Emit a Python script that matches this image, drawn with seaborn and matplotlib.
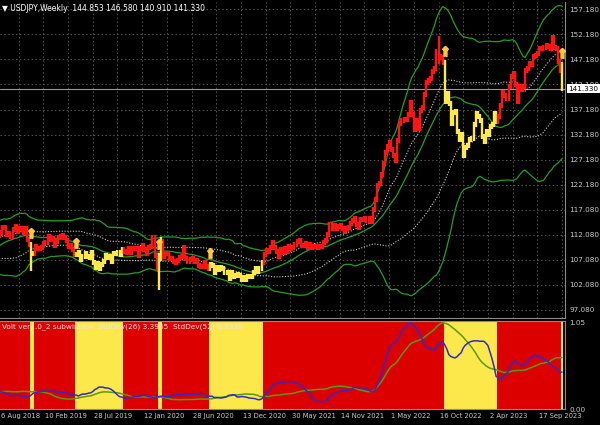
import numpy as np
import pandas as pd
import matplotlib
matplotlib.use("Agg")
import matplotlib.pyplot as plt
import matplotlib.transforms as mtransforms
import seaborn as sns

# weekly closes before the visible window (warm-up for the bands), Sep 2017 - Aug 2018
history = [110.2, 109.8, 111.0, 112.0, 112.6, 111.8, 113.5, 113.7, 114.0, 113.5,
           112.1, 111.5, 112.2, 113.5, 112.6, 112.7, 113.0, 111.0, 110.8, 108.6,
           110.2, 108.8, 106.3, 106.9, 105.8, 106.8, 106.0, 104.7, 106.3, 106.9,
           107.4, 107.6, 109.0, 109.1, 109.4, 110.8, 109.4, 109.5, 109.5, 110.6,
           110.0, 110.7, 110.5, 112.4, 111.4, 111.0, 111.2, 110.9, 110.5, 111.2]

# weekly closes, bar 0 = week of 26 Aug 2018, last bar = week of 10 Dec 2023
closes = [111.0, 110.9, 112.1, 112.6, 113.7, 113.7, 112.2, 112.5, 111.9, 113.2,
          113.8, 112.8, 113.4, 113.5, 112.7, 113.4, 111.2, 110.3, 108.5, 108.5,
          109.8, 109.5, 109.5, 109.7, 110.5, 110.7, 111.9, 111.2, 111.5, 110.0,
          110.9, 111.7, 111.9, 112.0, 111.6, 111.1, 109.9, 110.1, 109.3, 108.3,
          108.2, 108.6, 107.3, 107.8, 108.5, 107.9, 107.7, 108.7, 106.6, 105.7,
          106.4, 105.4, 106.3, 106.9, 108.1, 107.6, 107.9, 106.9, 108.4, 108.4,
          108.7, 108.2, 109.3, 108.8, 108.7, 109.5, 108.6, 109.4, 109.4, 109.4,
          108.1, 109.5, 110.1, 109.3, 108.4, 109.7, 109.8, 111.6, 108.0, 105.4,
          108.0, 110.8, 107.9, 108.5, 108.5, 107.5, 107.5, 106.9, 106.7, 107.1,
          107.6, 107.8, 109.6, 107.4, 106.9, 107.2, 107.5, 106.9, 107.0, 106.1,
          105.9, 105.9, 106.6, 105.8, 105.4, 106.2, 106.1, 104.6, 105.6, 105.3,
          105.6, 105.4, 104.7, 104.7, 103.4, 104.6, 103.9, 104.1, 104.2, 104.0,
          103.3, 103.6, 103.2, 103.9, 103.9, 103.8, 104.7, 105.4, 104.9, 105.4,
          106.6, 108.3, 109.0, 108.9, 109.7, 110.7, 109.7, 108.8, 107.9, 109.3,
          108.6, 109.4, 108.9, 109.8, 109.5, 109.7, 110.2, 110.8, 111.0, 110.1,
          110.1, 110.5, 109.7, 110.2, 109.6, 109.8, 109.8, 109.7, 109.9, 109.9,
          110.7, 111.0, 112.2, 114.2, 113.5, 114.0, 113.4, 113.9, 114.0, 113.4,
          112.8, 113.4, 113.7, 114.4, 115.1, 115.5, 114.2, 113.7, 115.2, 115.2,
          115.4, 115.0, 115.5, 114.8, 117.3, 119.2, 122.1, 122.5, 124.3, 126.4,
          128.5, 129.8, 130.6, 129.2, 127.9, 127.1, 130.9, 134.4, 135.0, 135.2,
          135.2, 136.1, 138.5, 136.1, 133.2, 135.0, 133.4, 136.9, 137.5, 140.2,
          142.6, 142.9, 143.4, 144.7, 145.3, 148.7, 147.7, 147.5, 146.6, 138.8,
          140.4, 138.4, 134.3, 136.6, 136.7, 132.8, 131.1, 132.1, 127.9, 129.6,
          129.9, 131.2, 131.4, 134.2, 136.4, 135.8, 134.9, 131.8, 130.7, 132.8,
          132.2, 133.8, 134.1, 136.3, 134.8, 135.7, 137.9, 140.6, 139.9, 139.4,
          141.8, 143.7, 144.3, 142.1, 138.8, 141.8, 141.2, 141.8, 144.9, 145.4,
          146.4, 146.2, 147.8, 147.9, 148.4, 149.4, 149.3, 149.6, 149.9, 149.7,
          149.4, 151.5, 149.6, 149.4, 146.8, 144.9, 141.3]

# bars with long wicks (high / low)
spike_bars = [18, 80, 81, 216, 271, 276]
spike_highs = [110.4, 108.5, 111.7, 151.9, 151.9, 146.58]
spike_lows = [104.9, 101.2, 107.0, 146.2, 149.5, 140.91]

# downtrend (yellow) periods, first and last bar
yellow_periods = [(18, 19), (40, 62), (80, 81), (105, 130), (219, 244), (276, 276)]

price_ticks = [157.18, 152.18, 147.18, 142.18, 137.18, 132.18, 127.18,
               122.18, 117.18, 112.18, 107.18, 102.18, 97.18]
price_labels = ["157.180", "152.180", "147.180", "142.180", "137.180", "132.180", "127.180",
                "122.180", "117.080", "112.080", "107.080", "102.080", "97.080"]

# first label is cut at the left edge in the original ("6 Aug 2018" is what shows)
date_bars = [3, 24, 48, 72, 96, 120, 144, 168, 192, 216, 240, 264]
date_labels = ["6 Aug 2018", "10 Feb 2019", "28 Jul 2019", "12 Jan 2020", "28 Jun 2020",
               "13 Dec 2020", "30 May 2021", "14 Nov 2021", "1 May 2022", "16 Oct 2022",
               "2 Apr 2023", "17 Sep 2023"]

last_price = 141.33

# --- indicators ---
H = len(history)
df = pd.DataFrame({"bar": np.arange(-H, len(closes)), "close": history + closes})
df["open"] = df["close"].shift(1)
m40 = df["close"].rolling(40).mean()
s40 = df["close"].rolling(40).std()
df["up2"] = m40 + 2.5 * s40
df["lo2"] = m40 - 2.5 * s40
df["up1"] = m40 + s40
df["lo1"] = m40 - s40
df["ma26"] = df["close"].rolling(26).mean()
df["sd26"] = df["close"].rolling(26).std()
df["sd52"] = df["close"].rolling(52).std()
vis = df[df["bar"] >= 0].copy()
vis["n26"] = vis["sd26"] / vis["sd26"].max() * 1.05
vis["n52"] = vis["sd52"] / vis["sd52"].max() * 1.05

body_hi = np.maximum(vis["open"], vis["close"]).to_numpy() + 0.5
body_lo = np.minimum(vis["open"], vis["close"]).to_numpy() - 0.5
bars = vis["bar"].to_numpy()
for b, h, l in zip(spike_bars, spike_highs, spike_lows):
    body_hi[b] = max(body_hi[b], h)
    body_lo[b] = min(body_lo[b], l)

RED, YEL = "#ff1414", "#ffe94a"
is_yellow = np.zeros(len(bars), dtype=bool)
for a, b in yellow_periods:
    is_yellow[a:b + 1] = True
colors = np.where(is_yellow, YEL, RED)

# --- figure ---
sns.set_theme(style="dark", rc={"axes.facecolor": "black", "figure.facecolor": "black"})
plt.rcParams["font.family"] = ["DejaVu Sans"]

fig = plt.figure(figsize=(6, 4.25), dpi=100)
ax = fig.add_axes([0, 1 - 318 / 425, 565 / 600, 316 / 425])
ax2 = fig.add_axes([0, 1 - 409 / 425, 565 / 600, 88 / 425])

xl = (6 / 2.058, 571 / 2.058)
grid_kw = dict(color="#555555", lw=0.7, ls=(0, (1.5, 2.5)), zorder=0)

# price window
for v in price_ticks:
    ax.axhline(v, **grid_kw)
for v in range(12, 277, 12):
    ax.axvline(v, **grid_kw)
ax.axhline(last_price, color="#9a9a9a", lw=0.8, zorder=1)

sns.lineplot(data=vis, x="bar", y="up2", ax=ax, color="#22a022", lw=0.9, zorder=2)
sns.lineplot(data=vis, x="bar", y="lo2", ax=ax, color="#22a022", lw=0.9, zorder=2)
sns.lineplot(data=vis, x="bar", y="ma26", ax=ax, color="#22a022", lw=0.9, zorder=2)
ax.plot(vis["bar"], vis["up1"], color="#cfcfcf", lw=0.8, ls=(0, (1, 1.5)), zorder=2)
ax.plot(vis["bar"], vis["lo1"], color="#cfcfcf", lw=0.8, ls=(0, (1, 1.5)), zorder=2)

ax.vlines(bars, body_lo, body_hi, colors=colors, lw=1.7, zorder=3)

starts = [a for a, b in yellow_periods]
ax.plot(starts, body_hi[starts] + 1.8, ls="none", marker=r"$\Uparrow$", ms=7,
        color="#ffc83a", zorder=4)

ax.set_xlim(*xl)
ax.set_ylim(95.56, 158.64)
ax.yaxis.tick_right()
ax.set_yticks(price_ticks)
ax.set_yticklabels(price_labels)
ax.set_xticks([])
ax.tick_params(axis="y", colors="#c8c8c8", labelsize=5.2, length=0, pad=3)
ax.set_xlabel("")
ax.set_ylabel("")
for side in ["top", "left"]:
    ax.spines[side].set_visible(False)
for side in ["right", "bottom"]:
    ax.spines[side].set_color("#8a8a8a")
    ax.spines[side].set_linewidth(0.8)

tr = mtransforms.blended_transform_factory(ax.transAxes, ax.transData)
ax.text(1.006, last_price, "141.330", transform=tr, ha="left", va="center",
        fontsize=5.2, color="black", clip_on=False, zorder=10,
        bbox=dict(facecolor="white", edgecolor="none", pad=1.2))
ax.text(0.004, 0.993, "\u25bc USDJPY,Weekly  144.853 146.580 140.910 141.330",
        transform=ax.transAxes, ha="left", va="top", fontsize=5.5, color="white")

# sub window
ax2.axvspan(-0.5, bars[-1] + 0.5, color="#dc0000", lw=0, zorder=1)
for a, b in yellow_periods:
    ax2.axvspan(a - 0.5, b + 0.5, color="#fde84c", lw=0, zorder=1)
sns.lineplot(data=vis, x="bar", y="n52", ax=ax2, color="#5a9a10", lw=1.1, zorder=2)
sns.lineplot(data=vis, x="bar", y="n26", ax=ax2, color="#2e2ad0", lw=1.1, zorder=3)
ax2.set_xlim(*xl)
ax2.set_ylim(0, 1.07)
ax2.yaxis.tick_right()
ax2.set_yticks([1.05, 0.0])
ax2.set_yticklabels(["1.05", "0.00"])
ax2.tick_params(axis="y", colors="#c8c8c8", labelsize=5.2, length=0, pad=3)
ax2.set_xticks(date_bars[1:])
ax2.set_xticklabels([])
ax2.tick_params(axis="x", colors="#8a8a8a", length=2, direction="out")
ax2.set_xlabel("")
ax2.set_ylabel("")
ax2.spines["left"].set_visible(False)
for side in ["top", "right", "bottom"]:
    ax2.spines[side].set_color("#8a8a8a")
    ax2.spines[side].set_linewidth(0.8)
ax2.text(0.004, 0.975, "Volt ver2.0_2 subwindow  StdDev(26) 3.3965  StdDev(52) 6.9330",
         transform=ax2.transAxes, ha="left", va="top", fontsize=5.3, color="#e6e6e6", zorder=5)

tr2 = mtransforms.blended_transform_factory(ax2.transData, ax2.transAxes)
for b, lab in zip(date_bars, date_labels):
    xpos = xl[0] + 0.4 if b == date_bars[0] else b + 0.8
    ax2.text(xpos, -0.04, lab, transform=tr2, ha="left", va="top",
             fontsize=4.9, color="#c8c8c8", clip_on=False)

fig.savefig("out.png", dpi=100, facecolor="black")
